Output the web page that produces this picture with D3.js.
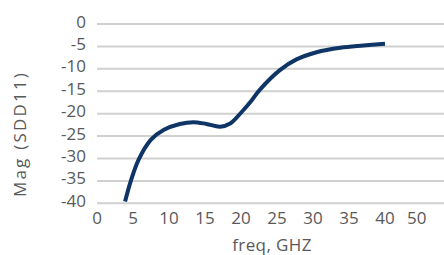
<!DOCTYPE html>
<html>
<head>
<meta charset="utf-8">
<script src="https://cdn.jsdelivr.net/npm/d3@7"></script>
<style>
  html, body { margin: 0; padding: 0; background: #fff; }
  svg { display: block; }
  text { font-family: "Open Sans", sans-serif; fill: #595959; }
</style>
</head>
<body>
<svg id="chart" width="444" height="255"></svg>
<script>
const freq = [3.9, 4.7, 5.8, 7.5, 9.3, 11.5, 13.4, 15.2, 17.1, 18.5, 20, 21.5, 22.6, 25.4, 27.7, 30.5, 33.8, 37, 40];
const mag  = [-39.6, -35.0, -30.2, -25.8, -23.6, -22.3, -21.9, -22.3, -22.9, -22.2, -19.8, -17.0, -14.7, -10.3, -7.9, -6.3, -5.3, -4.8, -4.4];
const yTickValues = [0, -5, -10, -15, -20, -25, -30, -35, -40];
const xTickValues = [0, 5, 10, 15, 20, 25, 30, 35, 40, 44.4];
const xTickLabels = ["0", "5", "10", "15", "20", "25", "30", "35", "40", "50"];
const xTitle = "freq, GHZ";
const yTitle = "Mag (SDD11)";

const svg = d3.select("#chart");
const x = d3.scaleLinear().domain([0, 40]).range([97, 385]);
const y = d3.scaleLinear().domain([-40, 0]).range([203.3, 24]);
const gridRight = 444;

// gridlines
svg.append("g").selectAll("line")
  .data(yTickValues)
  .join("line")
  .attr("x1", x(0)).attr("x2", gridRight)
  .attr("y1", d => y(d)).attr("y2", d => y(d))
  .attr("stroke", "#d0d0d0").attr("stroke-width", 2);

// y tick labels
svg.append("g").selectAll("text")
  .data(yTickValues)
  .join("text")
  .attr("x", 86).attr("y", d => y(d) + 3.5)
  .attr("text-anchor", "end")
  .attr("font-size", 17)
  .text(d => String(d));

// x tick labels
svg.append("g").selectAll("text")
  .data(xTickValues)
  .join("text")
  .attr("x", d => x(d)).attr("y", 224)
  .attr("text-anchor", "middle")
  .attr("font-size", 17)
  .text((d, i) => xTickLabels[i]);

// axis titles
svg.append("text")
  .attr("x", 272).attr("y", 251)
  .attr("text-anchor", "middle")
  .attr("font-size", 17)
  .attr("letter-spacing", 0.4)
  .text(xTitle);

svg.append("text")
  .attr("transform", "translate(26,134) rotate(-90)")
  .attr("text-anchor", "middle")
  .attr("font-size", 17)
  .attr("letter-spacing", 2.2)
  .text(yTitle);

// line
const data = freq.map((f, i) => ({ f, m: mag[i] }));
const line = d3.line()
  .x(d => x(d.f)).y(d => y(d.m))
  .curve(d3.curveCatmullRom.alpha(0.5));
svg.append("path")
  .datum(data)
  .attr("d", line)
  .attr("fill", "none")
  .attr("stroke", "#0e3566")
  .attr("stroke-width", 4);
</script>
</body>
</html>
